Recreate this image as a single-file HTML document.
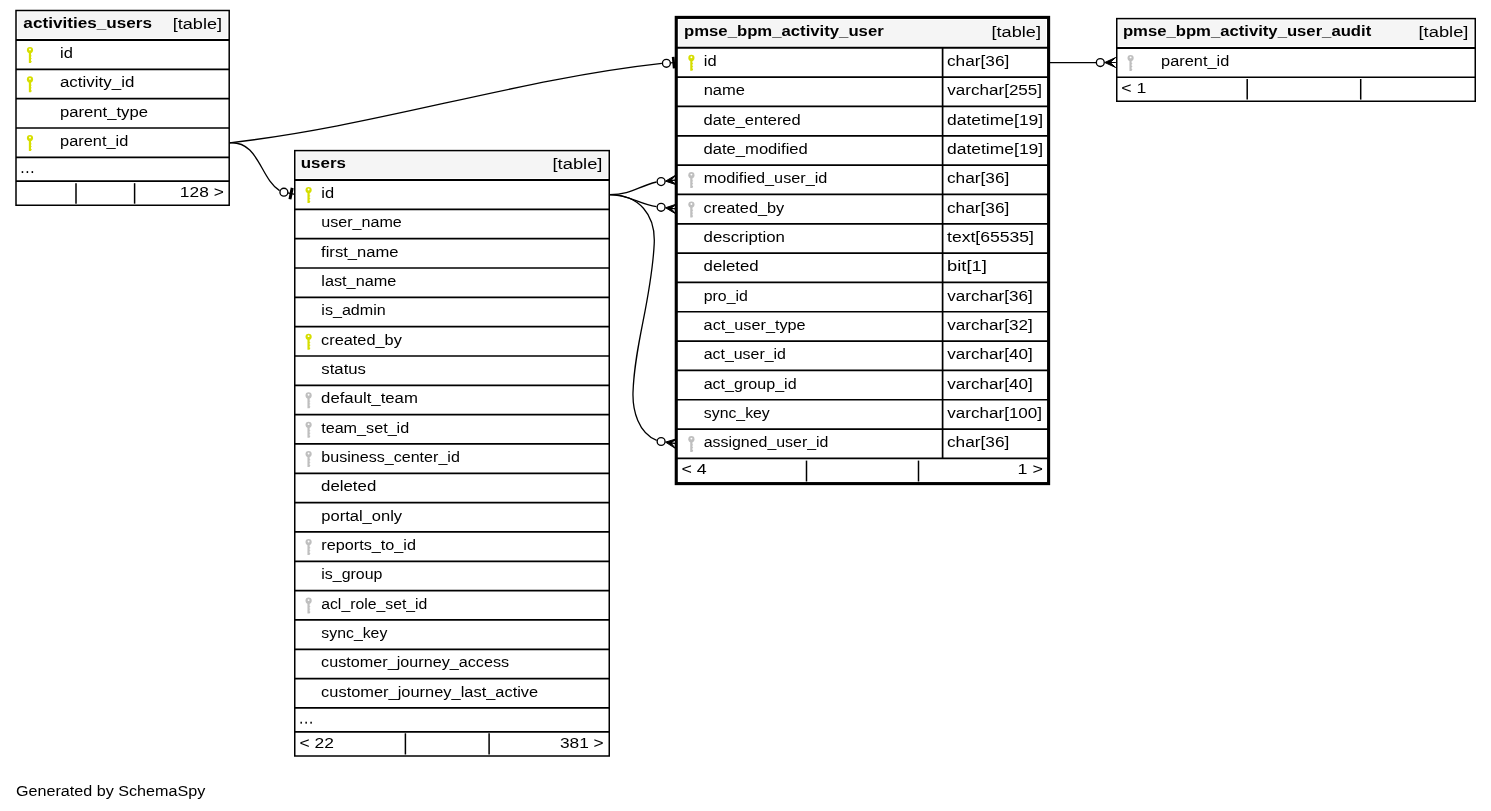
<!DOCTYPE html>
<html><head><meta charset="utf-8"><title>SchemaSpy - pmse_bpm_activity_user</title>
<style>
html,body{margin:0;padding:0;background:#fff;}
body{width:1491px;height:811px;overflow:hidden;}
svg{display:block;will-change:transform;font-family:"Liberation Sans",sans-serif;font-size:15.2px;}
</style></head><body>
<svg width="1491" height="811" viewBox="0 0 1491 811">
<rect width="1491" height="811" fill="#fff"/>
<path d="M229.5,142.8 C375.2,126.5 516.1,79.4 661.9,63.4" fill="none" stroke="#000" stroke-width="1.3"/>
<path d="M229.5,142.8 C258.9,140.8 259.8,177.8 279.6,190.6" fill="none" stroke="#000" stroke-width="1.3"/>
<path d="M609.5,194.6 C632.1,194.6 636.5,186.9 656.5,182.0" fill="none" stroke="#000" stroke-width="1.3"/>
<path d="M609.5,194.6 C628.8,194.6 638.3,203.6 656.5,206.7" fill="none" stroke="#000" stroke-width="1.3"/>
<path d="M609.5,194.6 C638.9,194.6 655.7,214.6 654.2,243.9 C651.4,300.5 634.5,343.5 633.0,392.6 C632.5,410.4 638.4,433.0 656.7,440.3" fill="none" stroke="#000" stroke-width="1.3"/>
<path d="M1049,62.6 L1096,62.6" fill="none" stroke="#000" stroke-width="1.3"/>
<rect x="17.85" y="12.35" width="209.50" height="25.65" fill="#f5f5f5"/>
<text x="23.39" y="27.70" font-weight="bold" textLength="128.60" lengthAdjust="spacingAndGlyphs">activities_users</text>
<text x="172.73" y="28.70" textLength="49.32" lengthAdjust="spacingAndGlyphs">[table]</text>
<line x1="16.00" y1="40.00" x2="229.20" y2="40.00" stroke="#000" stroke-width="2.0"/>
<g fill="#d6de00"><circle cx="30.00" cy="50.10" r="3.1"/><path d="M28.85 52.00 H31.05 V55.40 h0.6 v0.8 h-0.6 v2.0 h0.6 v0.8 h-0.6 v2.0 h0.6 v0.8 l-0.6 0.8 V63.00 H28.85 Z"/></g><circle cx="30.00" cy="49.50" r="0.95" fill="#fff"/>
<text x="60.08" y="58.10" textLength="12.83" lengthAdjust="spacingAndGlyphs">id</text>
<line x1="16.00" y1="69.33" x2="229.20" y2="69.33" stroke="#000" stroke-width="1.7"/>
<g fill="#d6de00"><circle cx="30.00" cy="79.43" r="3.1"/><path d="M28.85 81.33 H31.05 V84.73 h0.6 v0.8 h-0.6 v2.0 h0.6 v0.8 h-0.6 v2.0 h0.6 v0.8 l-0.6 0.8 V92.33 H28.85 Z"/></g><circle cx="30.00" cy="78.83" r="0.95" fill="#fff"/>
<text x="59.96" y="87.43" textLength="74.39" lengthAdjust="spacingAndGlyphs">activity_id</text>
<line x1="16.00" y1="98.66" x2="229.20" y2="98.66" stroke="#000" stroke-width="1.7"/>
<text x="60.04" y="116.76" textLength="87.92" lengthAdjust="spacingAndGlyphs">parent_type</text>
<line x1="16.00" y1="127.99" x2="229.20" y2="127.99" stroke="#000" stroke-width="1.7"/>
<g fill="#d6de00"><circle cx="30.00" cy="138.09" r="3.1"/><path d="M28.85 139.99 H31.05 V143.39 h0.6 v0.8 h-0.6 v2.0 h0.6 v0.8 h-0.6 v2.0 h0.6 v0.8 l-0.6 0.8 V150.99 H28.85 Z"/></g><circle cx="30.00" cy="137.49" r="0.95" fill="#fff"/>
<text x="60.06" y="146.09" textLength="68.24" lengthAdjust="spacingAndGlyphs">parent_id</text>
<line x1="16.00" y1="157.32" x2="229.20" y2="157.32" stroke="#000" stroke-width="1.7"/>
<rect x="21.70" y="171.12" width="1.5" height="1.9" fill="#000"/>
<rect x="26.65" y="171.12" width="1.5" height="1.9" fill="#000"/>
<rect x="31.60" y="171.12" width="1.5" height="1.9" fill="#000"/>
<line x1="16.00" y1="181.20" x2="229.20" y2="181.20" stroke="#000" stroke-width="1.7"/>
<line x1="76.00" y1="183.20" x2="76.00" y2="203.70" stroke="#000" stroke-width="1.5"/>
<line x1="134.60" y1="183.20" x2="134.60" y2="203.70" stroke="#000" stroke-width="1.5"/>
<text x="179.85" y="196.80" textLength="43.93" lengthAdjust="spacingAndGlyphs">128 &gt;</text>
<rect x="16.00" y="10.50" width="213.20" height="194.75" fill="none" stroke="#000" stroke-width="1.5"/>
<rect x="296.60" y="152.45" width="310.80" height="25.55" fill="#f5f5f5"/>
<text x="300.74" y="167.70" font-weight="bold" textLength="45.15" lengthAdjust="spacingAndGlyphs">users</text>
<text x="552.52" y="169.00" textLength="49.95" lengthAdjust="spacingAndGlyphs">[table]</text>
<line x1="294.75" y1="180.00" x2="609.25" y2="180.00" stroke="#000" stroke-width="2.0"/>
<g fill="#d6de00"><circle cx="308.60" cy="190.10" r="3.1"/><path d="M307.45 192.00 H309.65 V195.40 h0.6 v0.8 h-0.6 v2.0 h0.6 v0.8 h-0.6 v2.0 h0.6 v0.8 l-0.6 0.8 V203.00 H307.45 Z"/></g><circle cx="308.60" cy="189.50" r="0.95" fill="#fff"/>
<text x="321.28" y="198.10" textLength="12.83" lengthAdjust="spacingAndGlyphs">id</text>
<line x1="294.75" y1="209.33" x2="609.25" y2="209.33" stroke="#000" stroke-width="1.7"/>
<text x="321.20" y="227.43" textLength="80.65" lengthAdjust="spacingAndGlyphs">user_name</text>
<line x1="294.75" y1="238.66" x2="609.25" y2="238.66" stroke="#000" stroke-width="1.7"/>
<text x="321.08" y="256.76" textLength="77.46" lengthAdjust="spacingAndGlyphs">first_name</text>
<line x1="294.75" y1="267.99" x2="609.25" y2="267.99" stroke="#000" stroke-width="1.7"/>
<text x="321.30" y="286.09" textLength="75.04" lengthAdjust="spacingAndGlyphs">last_name</text>
<line x1="294.75" y1="297.32" x2="609.25" y2="297.32" stroke="#000" stroke-width="1.7"/>
<text x="321.31" y="315.42" textLength="64.50" lengthAdjust="spacingAndGlyphs">is_admin</text>
<line x1="294.75" y1="326.65" x2="609.25" y2="326.65" stroke="#000" stroke-width="1.7"/>
<g fill="#d6de00"><circle cx="308.60" cy="336.75" r="3.1"/><path d="M307.45 338.65 H309.65 V342.05 h0.6 v0.8 h-0.6 v2.0 h0.6 v0.8 h-0.6 v2.0 h0.6 v0.8 l-0.6 0.8 V349.65 H307.45 Z"/></g><circle cx="308.60" cy="336.15" r="0.95" fill="#fff"/>
<text x="321.11" y="344.75" textLength="80.71" lengthAdjust="spacingAndGlyphs">created_by</text>
<line x1="294.75" y1="355.98" x2="609.25" y2="355.98" stroke="#000" stroke-width="1.7"/>
<text x="321.35" y="374.08" textLength="44.62" lengthAdjust="spacingAndGlyphs">status</text>
<line x1="294.75" y1="385.31" x2="609.25" y2="385.31" stroke="#000" stroke-width="1.7"/>
<g fill="#bfbfbf"><circle cx="308.60" cy="395.41" r="3.1"/><path d="M307.45 397.31 H309.65 V400.71 h0.6 v0.8 h-0.6 v2.0 h0.6 v0.8 h-0.6 v2.0 h0.6 v0.8 l-0.6 0.8 V408.31 H307.45 Z"/></g><circle cx="308.60" cy="394.81" r="0.95" fill="#fff"/>
<text x="321.10" y="403.41" textLength="96.76" lengthAdjust="spacingAndGlyphs">default_team</text>
<line x1="294.75" y1="414.64" x2="609.25" y2="414.64" stroke="#000" stroke-width="1.7"/>
<g fill="#bfbfbf"><circle cx="308.60" cy="424.74" r="3.1"/><path d="M307.45 426.64 H309.65 V430.04 h0.6 v0.8 h-0.6 v2.0 h0.6 v0.8 h-0.6 v2.0 h0.6 v0.8 l-0.6 0.8 V437.64 H307.45 Z"/></g><circle cx="308.60" cy="424.14" r="0.95" fill="#fff"/>
<text x="321.16" y="432.74" textLength="88.05" lengthAdjust="spacingAndGlyphs">team_set_id</text>
<line x1="294.75" y1="443.97" x2="609.25" y2="443.97" stroke="#000" stroke-width="1.7"/>
<g fill="#bfbfbf"><circle cx="308.60" cy="454.07" r="3.1"/><path d="M307.45 455.97 H309.65 V459.37 h0.6 v0.8 h-0.6 v2.0 h0.6 v0.8 h-0.6 v2.0 h0.6 v0.8 l-0.6 0.8 V466.97 H307.45 Z"/></g><circle cx="308.60" cy="453.47" r="0.95" fill="#fff"/>
<text x="321.27" y="462.07" textLength="138.60" lengthAdjust="spacingAndGlyphs">business_center_id</text>
<line x1="294.75" y1="473.30" x2="609.25" y2="473.30" stroke="#000" stroke-width="1.7"/>
<text x="321.09" y="491.40" textLength="55.17" lengthAdjust="spacingAndGlyphs">deleted</text>
<line x1="294.75" y1="502.63" x2="609.25" y2="502.63" stroke="#000" stroke-width="1.7"/>
<text x="321.25" y="520.73" textLength="80.86" lengthAdjust="spacingAndGlyphs">portal_only</text>
<line x1="294.75" y1="531.96" x2="609.25" y2="531.96" stroke="#000" stroke-width="1.7"/>
<g fill="#bfbfbf"><circle cx="308.60" cy="542.06" r="3.1"/><path d="M307.45 543.96 H309.65 V547.36 h0.6 v0.8 h-0.6 v2.0 h0.6 v0.8 h-0.6 v2.0 h0.6 v0.8 l-0.6 0.8 V554.96 H307.45 Z"/></g><circle cx="308.60" cy="541.46" r="0.95" fill="#fff"/>
<text x="321.27" y="550.06" textLength="94.69" lengthAdjust="spacingAndGlyphs">reports_to_id</text>
<line x1="294.75" y1="561.29" x2="609.25" y2="561.29" stroke="#000" stroke-width="1.7"/>
<text x="321.32" y="579.39" textLength="61.17" lengthAdjust="spacingAndGlyphs">is_group</text>
<line x1="294.75" y1="590.62" x2="609.25" y2="590.62" stroke="#000" stroke-width="1.7"/>
<g fill="#bfbfbf"><circle cx="308.60" cy="600.72" r="3.1"/><path d="M307.45 602.62 H309.65 V606.02 h0.6 v0.8 h-0.6 v2.0 h0.6 v0.8 h-0.6 v2.0 h0.6 v0.8 l-0.6 0.8 V613.62 H307.45 Z"/></g><circle cx="308.60" cy="600.12" r="0.95" fill="#fff"/>
<text x="321.21" y="608.72" textLength="106.19" lengthAdjust="spacingAndGlyphs">acl_role_set_id</text>
<line x1="294.75" y1="619.95" x2="609.25" y2="619.95" stroke="#000" stroke-width="1.7"/>
<text x="321.37" y="638.05" textLength="65.94" lengthAdjust="spacingAndGlyphs">sync_key</text>
<line x1="294.75" y1="649.28" x2="609.25" y2="649.28" stroke="#000" stroke-width="1.7"/>
<text x="321.12" y="667.38" textLength="187.99" lengthAdjust="spacingAndGlyphs">customer_journey_access</text>
<line x1="294.75" y1="678.61" x2="609.25" y2="678.61" stroke="#000" stroke-width="1.7"/>
<text x="321.11" y="696.71" textLength="217.07" lengthAdjust="spacingAndGlyphs">customer_journey_last_active</text>
<line x1="294.75" y1="707.94" x2="609.25" y2="707.94" stroke="#000" stroke-width="1.7"/>
<rect x="300.45" y="721.74" width="1.5" height="1.9" fill="#000"/>
<rect x="305.40" y="721.74" width="1.5" height="1.9" fill="#000"/>
<rect x="310.35" y="721.74" width="1.5" height="1.9" fill="#000"/>
<line x1="294.75" y1="731.80" x2="609.25" y2="731.80" stroke="#000" stroke-width="1.7"/>
<line x1="405.40" y1="733.30" x2="405.40" y2="754.50" stroke="#000" stroke-width="1.5"/>
<line x1="489.10" y1="733.30" x2="489.10" y2="754.50" stroke="#000" stroke-width="1.5"/>
<text x="299.53" y="747.75" textLength="34.41" lengthAdjust="spacingAndGlyphs">&lt; 22</text>
<text x="559.94" y="747.75" textLength="43.79" lengthAdjust="spacingAndGlyphs">381 &gt;</text>
<rect x="294.75" y="150.60" width="314.50" height="605.40" fill="none" stroke="#000" stroke-width="1.5"/>
<rect x="678.90" y="20.05" width="367.05" height="25.75" fill="#f5f5f5"/>
<text x="684.01" y="35.70" font-weight="bold" textLength="199.70" lengthAdjust="spacingAndGlyphs">pmse_bpm_activity_user</text>
<text x="991.53" y="36.80" textLength="49.43" lengthAdjust="spacingAndGlyphs">[table]</text>
<line x1="676.25" y1="47.80" x2="1048.60" y2="47.80" stroke="#000" stroke-width="2.0"/>
<g fill="#d6de00"><circle cx="691.40" cy="57.90" r="3.1"/><path d="M690.25 59.80 H692.45 V63.20 h0.6 v0.8 h-0.6 v2.0 h0.6 v0.8 h-0.6 v2.0 h0.6 v0.8 l-0.6 0.8 V70.80 H690.25 Z"/></g><circle cx="691.40" cy="57.30" r="0.95" fill="#fff"/>
<text x="703.73" y="65.90" textLength="12.83" lengthAdjust="spacingAndGlyphs">id</text>
<text x="946.97" y="65.90" textLength="62.39" lengthAdjust="spacingAndGlyphs">char[36]</text>
<line x1="676.25" y1="77.13" x2="1048.60" y2="77.13" stroke="#000" stroke-width="1.7"/>
<text x="703.65" y="95.23" textLength="41.33" lengthAdjust="spacingAndGlyphs">name</text>
<text x="947.30" y="95.23" textLength="94.76" lengthAdjust="spacingAndGlyphs">varchar[255]</text>
<line x1="676.25" y1="106.46" x2="1048.60" y2="106.46" stroke="#000" stroke-width="1.7"/>
<text x="703.56" y="124.56" textLength="97.17" lengthAdjust="spacingAndGlyphs">date_entered</text>
<text x="946.96" y="124.56" textLength="96.26" lengthAdjust="spacingAndGlyphs">datetime[19]</text>
<line x1="676.25" y1="135.79" x2="1048.60" y2="135.79" stroke="#000" stroke-width="1.7"/>
<text x="703.55" y="153.89" textLength="104.23" lengthAdjust="spacingAndGlyphs">date_modified</text>
<text x="946.96" y="153.89" textLength="96.26" lengthAdjust="spacingAndGlyphs">datetime[19]</text>
<line x1="676.25" y1="165.12" x2="1048.60" y2="165.12" stroke="#000" stroke-width="1.7"/>
<g fill="#bfbfbf"><circle cx="691.40" cy="175.22" r="3.1"/><path d="M690.25 177.12 H692.45 V180.52 h0.6 v0.8 h-0.6 v2.0 h0.6 v0.8 h-0.6 v2.0 h0.6 v0.8 l-0.6 0.8 V188.12 H690.25 Z"/></g><circle cx="691.40" cy="174.62" r="0.95" fill="#fff"/>
<text x="703.67" y="183.22" textLength="123.75" lengthAdjust="spacingAndGlyphs">modified_user_id</text>
<text x="946.97" y="183.22" textLength="62.39" lengthAdjust="spacingAndGlyphs">char[36]</text>
<line x1="676.25" y1="194.45" x2="1048.60" y2="194.45" stroke="#000" stroke-width="1.7"/>
<g fill="#bfbfbf"><circle cx="691.40" cy="204.55" r="3.1"/><path d="M690.25 206.45 H692.45 V209.85 h0.6 v0.8 h-0.6 v2.0 h0.6 v0.8 h-0.6 v2.0 h0.6 v0.8 l-0.6 0.8 V217.45 H690.25 Z"/></g><circle cx="691.40" cy="203.95" r="0.95" fill="#fff"/>
<text x="703.56" y="212.55" textLength="80.71" lengthAdjust="spacingAndGlyphs">created_by</text>
<text x="946.97" y="212.55" textLength="62.39" lengthAdjust="spacingAndGlyphs">char[36]</text>
<line x1="676.25" y1="223.78" x2="1048.60" y2="223.78" stroke="#000" stroke-width="1.7"/>
<text x="703.54" y="241.88" textLength="81.32" lengthAdjust="spacingAndGlyphs">description</text>
<text x="947.04" y="241.88" textLength="86.91" lengthAdjust="spacingAndGlyphs">text[65535]</text>
<line x1="676.25" y1="253.11" x2="1048.60" y2="253.11" stroke="#000" stroke-width="1.7"/>
<text x="703.54" y="271.21" textLength="55.17" lengthAdjust="spacingAndGlyphs">deleted</text>
<text x="947.03" y="271.21" textLength="39.82" lengthAdjust="spacingAndGlyphs">bit[1]</text>
<line x1="676.25" y1="282.44" x2="1048.60" y2="282.44" stroke="#000" stroke-width="1.7"/>
<text x="703.74" y="300.54" textLength="44.12" lengthAdjust="spacingAndGlyphs">pro_id</text>
<text x="947.30" y="300.54" textLength="85.43" lengthAdjust="spacingAndGlyphs">varchar[36]</text>
<line x1="676.25" y1="311.77" x2="1048.60" y2="311.77" stroke="#000" stroke-width="1.7"/>
<text x="703.64" y="329.87" textLength="101.99" lengthAdjust="spacingAndGlyphs">act_user_type</text>
<text x="947.30" y="329.87" textLength="85.43" lengthAdjust="spacingAndGlyphs">varchar[32]</text>
<line x1="676.25" y1="341.10" x2="1048.60" y2="341.10" stroke="#000" stroke-width="1.7"/>
<text x="703.65" y="359.20" textLength="82.34" lengthAdjust="spacingAndGlyphs">act_user_id</text>
<text x="947.30" y="359.20" textLength="85.43" lengthAdjust="spacingAndGlyphs">varchar[40]</text>
<line x1="676.25" y1="370.43" x2="1048.60" y2="370.43" stroke="#000" stroke-width="1.7"/>
<text x="703.65" y="388.53" textLength="92.95" lengthAdjust="spacingAndGlyphs">act_group_id</text>
<text x="947.30" y="388.53" textLength="85.43" lengthAdjust="spacingAndGlyphs">varchar[40]</text>
<line x1="676.25" y1="399.76" x2="1048.60" y2="399.76" stroke="#000" stroke-width="1.7"/>
<text x="703.82" y="417.86" textLength="65.94" lengthAdjust="spacingAndGlyphs">sync_key</text>
<text x="947.30" y="417.86" textLength="94.76" lengthAdjust="spacingAndGlyphs">varchar[100]</text>
<line x1="676.25" y1="429.09" x2="1048.60" y2="429.09" stroke="#000" stroke-width="1.7"/>
<g fill="#bfbfbf"><circle cx="691.40" cy="439.19" r="3.1"/><path d="M690.25 441.09 H692.45 V444.49 h0.6 v0.8 h-0.6 v2.0 h0.6 v0.8 h-0.6 v2.0 h0.6 v0.8 l-0.6 0.8 V452.09 H690.25 Z"/></g><circle cx="691.40" cy="438.59" r="0.95" fill="#fff"/>
<text x="703.65" y="447.19" textLength="124.83" lengthAdjust="spacingAndGlyphs">assigned_user_id</text>
<text x="946.97" y="447.19" textLength="62.39" lengthAdjust="spacingAndGlyphs">char[36]</text>
<line x1="942.60" y1="47.80" x2="942.60" y2="458.42" stroke="#000" stroke-width="1.7"/>
<line x1="676.25" y1="458.42" x2="1048.60" y2="458.42" stroke="#000" stroke-width="1.7"/>
<line x1="806.50" y1="460.60" x2="806.50" y2="481.50" stroke="#000" stroke-width="1.5"/>
<line x1="918.50" y1="460.60" x2="918.50" y2="481.50" stroke="#000" stroke-width="1.5"/>
<text x="681.41" y="473.75" textLength="25.30" lengthAdjust="spacingAndGlyphs">&lt; 4</text>
<text x="1017.62" y="473.75" textLength="25.33" lengthAdjust="spacingAndGlyphs">1 &gt;</text>
<rect x="676.25" y="17.40" width="372.35" height="466.20" fill="none" stroke="#000" stroke-width="3.1"/>
<rect x="1118.60" y="20.45" width="354.80" height="25.45" fill="#f5f5f5"/>
<text x="1122.92" y="35.90" font-weight="bold" textLength="248.30" lengthAdjust="spacingAndGlyphs">pmse_bpm_activity_user_audit</text>
<text x="1418.52" y="36.80" textLength="49.95" lengthAdjust="spacingAndGlyphs">[table]</text>
<line x1="1116.75" y1="47.90" x2="1475.25" y2="47.90" stroke="#000" stroke-width="2.0"/>
<g fill="#bfbfbf"><circle cx="1130.60" cy="58.00" r="3.1"/><path d="M1129.45 59.90 H1131.65 V63.30 h0.6 v0.8 h-0.6 v2.0 h0.6 v0.8 h-0.6 v2.0 h0.6 v0.8 l-0.6 0.8 V70.90 H1129.45 Z"/></g><circle cx="1130.60" cy="57.40" r="0.95" fill="#fff"/>
<text x="1161.06" y="66.00" textLength="68.24" lengthAdjust="spacingAndGlyphs">parent_id</text>
<line x1="1116.75" y1="77.23" x2="1475.25" y2="77.23" stroke="#000" stroke-width="1.7"/>
<line x1="1247.20" y1="79.00" x2="1247.20" y2="99.60" stroke="#000" stroke-width="1.5"/>
<line x1="1360.70" y1="79.00" x2="1360.70" y2="99.60" stroke="#000" stroke-width="1.5"/>
<text x="1121.36" y="92.75" textLength="25.13" lengthAdjust="spacingAndGlyphs">&lt; 1</text>
<rect x="1116.75" y="18.60" width="358.50" height="82.65" fill="none" stroke="#000" stroke-width="1.5"/>
<polygon points="671.82,57.00 674.51,56.77 675.52,68.32 672.83,68.56" fill="#000"/>
<line x1="670.33" y1="62.96" x2="675.37" y2="62.52" stroke="#000" stroke-width="1.2"/>
<circle cx="666.40" cy="63.30" r="3.95" fill="#fff" stroke="#000" stroke-width="1.35"/>
<polygon points="290.70,187.61 293.65,188.19 291.43,199.57 288.49,199.00" fill="#000"/>
<line x1="287.78" y1="192.95" x2="294.89" y2="194.34" stroke="#000" stroke-width="1.2"/>
<circle cx="283.90" cy="192.20" r="3.95" fill="#fff" stroke="#000" stroke-width="1.35"/>
<polygon points="665.53,181.13 675.84,175.02 670.95,180.57 676.37,180.00 670.95,180.57 676.89,184.97" fill="#000" stroke="#000" stroke-width="1"/>
<circle cx="661.10" cy="181.60" r="3.95" fill="#fff" stroke="#000" stroke-width="1.35"/>
<polygon points="665.53,207.77 676.89,203.93 670.95,208.33 676.37,208.90 670.95,208.33 675.84,213.88" fill="#000" stroke="#000" stroke-width="1"/>
<circle cx="661.10" cy="207.30" r="3.95" fill="#fff" stroke="#000" stroke-width="1.35"/>
<polygon points="665.51,442.12 677.00,438.68 670.90,442.88 676.30,443.64 670.90,442.88 675.60,448.59" fill="#000" stroke="#000" stroke-width="1"/>
<circle cx="661.10" cy="441.50" r="3.95" fill="#fff" stroke="#000" stroke-width="1.35"/>
<polygon points="1104.75,62.50 1115.65,57.50 1110.20,62.50 1115.65,62.50 1110.20,62.50 1115.65,67.50" fill="#000" stroke="#000" stroke-width="1"/>
<circle cx="1100.30" cy="62.50" r="3.95" fill="#fff" stroke="#000" stroke-width="1.35"/>
<text x="15.99" y="795.80" textLength="189.24" lengthAdjust="spacingAndGlyphs">Generated by SchemaSpy</text>
</svg>
</body></html>
